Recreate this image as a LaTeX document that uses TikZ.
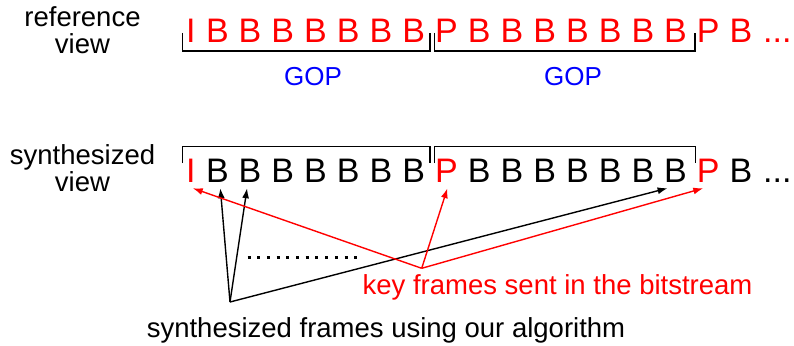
\documentclass[tikz,border=0pt]{standalone}
\usepackage{fontspec}
\setmainfont{Liberation Sans}
\usepackage{tikz}
\usetikzlibrary{arrows.meta}
\definecolor{FrameRed}{HTML}{FF0000}
\definecolor{GopBlue}{HTML}{0000FF}
\tikzset{
  framelabel/.style={anchor=base west,inner xsep=0pt,inner ysep=6pt,
    font=\fontsize{34}{34}\selectfont},
  sidelabel/.style={anchor=base,align=center,inner sep=0pt,
    font=\fontsize{27.5}{27}\selectfont},
  plainlabel/.style={anchor=base,inner sep=0pt,font=\fontsize{27.5}{27}\selectfont},
  goplabel/.style={anchor=base,inner sep=0pt,text=GopBlue,
    font=\fontsize{26}{27}\selectfont},
  gopbracket/.style={line width=1.5pt,draw=black},
  keyarrow/.style={-{Latex[length=10pt,width=7pt]},line width=1.4pt,draw=FrameRed},
  synarrow/.style={-{Latex[length=10pt,width=7pt]},line width=1.4pt,draw=black}
}

\begin{document}
\begin{tikzpicture}[x=1pt,y=-1pt]
  \useasboundingbox (0,0) rectangle (794,345);

  % side labels
  \node[sidelabel] (refview) at (82.5,54) {reference\\view};
  \node[sidelabel] (synview) at (82.5,191.7) {synthesized\\view};

  % reference view: every frame is red
  \node[framelabel,text=FrameRed] (r0) at (185.8,42.5) {I};
  \foreach \k/\ch in {1/B,2/B,3/B,4/B,5/B,6/B,7/B,8/P,9/B,10/B,11/B,12/B,13/B,14/B,15/B,16/P,17/B}
    \node[framelabel,text=FrameRed] (r\k) at ({205.8+32.73*(\k-1)},42.5) {\ch};
  \node[framelabel,text=FrameRed] (r18) at (763,42.5) {...};

  % synthesized view: key frames red, the rest black
  \node[framelabel,text=FrameRed] (s0) at (185.8,182) {I};
  \foreach \k/\ch/\col in {1/B/black,2/B/black,3/B/black,4/B/black,5/B/black,6/B/black,7/B/black,
      8/P/FrameRed,9/B/black,10/B/black,11/B/black,12/B/black,13/B/black,14/B/black,15/B/black,
      16/P/FrameRed,17/B/black}
    \node[framelabel,text=\col] (s\k) at ({205.8+32.73*(\k-1)},182) {\ch};
  \node[framelabel] (s18) at (763,182) {...};

  % GOP brackets
  \draw[gopbracket] (182.7,33) -- (182.7,51) -- (430,51) -- (430,33);
  \draw[gopbracket] (434.5,33) -- (434.5,51) -- (695,51) -- (695,33);
  \draw[gopbracket] (182.7,163) -- (182.7,146.7) -- (430,146.7) -- (430,163);
  \draw[gopbracket] (434.5,163) -- (434.5,146.7) -- (695.5,146.7) -- (695.5,163);
  \node[goplabel] (gop1) at (313,85) {GOP};
  \node[goplabel] (gop2) at (573,85) {GOP};

  % bottom captions
  \coordinate (synfoot) at (230,302);
  \coordinate (keyfoot) at (421.7,268.3);
  \node[plainlabel,text=FrameRed] (keytext) at (557.5,294) {key frames sent in the bitstream};
  \node[plainlabel] (syntext) at (386,337) {synthesized frames using our algorithm};
  \draw[line width=3pt,dash pattern=on 3pt off 6.7pt] (247.5,257) -- (357.5,257);

  \draw[synarrow] (synfoot) -- ([xshift=3pt]s1.south);
  \draw[synarrow] (synfoot) -- ([xshift=-3pt]s2.south);
  \draw[synarrow] (synfoot) -- ([xshift=-8pt]s15.south);
  \draw[keyarrow] (keyfoot) -- ([xshift=2pt]s0.south);
  \draw[keyarrow] (keyfoot) -- ([xshift=1pt]s8.south);
  \draw[keyarrow] (keyfoot) -- ([xshift=-5pt]s16.south);
\end{tikzpicture}
\end{document}
